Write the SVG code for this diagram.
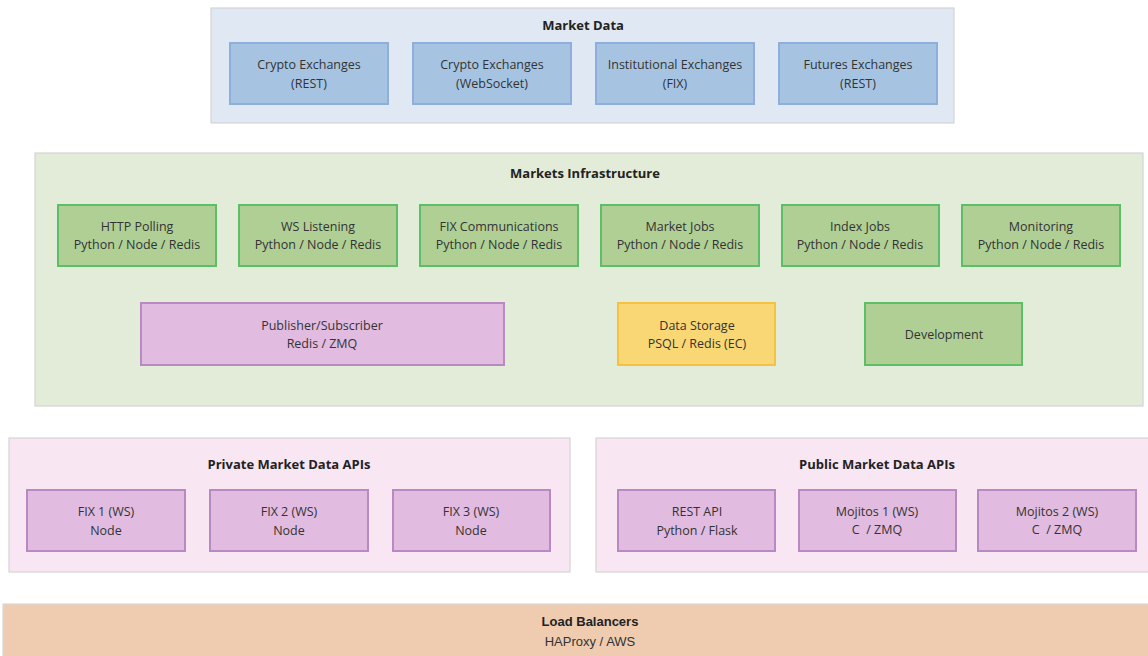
<svg xmlns="http://www.w3.org/2000/svg" width="1148" height="656" viewBox="0 0 1148 656">
<style>
text{font-family:"Open Sans","Noto Sans","Liberation Sans",sans-serif;font-size:12.5px;fill:#333;text-anchor:middle}
.t{font-weight:bold;font-size:13px;fill:#222}
.cont{stroke:#d4d4d4;stroke-width:1.2}
.blue{fill:#a6c4e2;stroke:#8eaedb;stroke-width:2}
.green{fill:#afcf95;stroke:#5cbf68;stroke-width:2}
.purple{fill:#e1bbe0;stroke:#b98ac2;stroke-width:2}
.yellow{fill:#f9d774;stroke:#f4c23e;stroke-width:2}
.lb{font-family:"Liberation Sans Narrow","Liberation Sans",sans-serif}
</style>
<rect width="1148" height="656" fill="#fff"/>
<g id="market-data">
<rect class="cont" x="211" y="8" width="743" height="115" fill="#dfe8f3"/>
<text class="t" x="583" y="30">Market Data</text>
</g>
<g id="crypto-rest"><rect class="blue" x="230" y="43" width="158" height="61"/><text x="309" y="69">Crypto Exchanges</text><text x="309" y="88">(REST)</text></g>
<g id="crypto-ws"><rect class="blue" x="413" y="43" width="158" height="61"/><text x="492" y="69">Crypto Exchanges</text><text x="492" y="88">(WebSocket)</text></g>
<g id="inst-fix"><rect class="blue" x="596" y="43" width="158" height="61"/><text x="675" y="69">Institutional Exchanges</text><text x="675" y="88">(FIX)</text></g>
<g id="futures-rest"><rect class="blue" x="779" y="43" width="158" height="61"/><text x="858" y="69">Futures Exchanges</text><text x="858" y="88">(REST)</text></g>

<g id="markets-infra">
<rect class="cont" x="35" y="153" width="1108" height="253" fill="#e3ecd8"/>
<text class="t" x="585" y="178">Markets Infrastructure</text>
</g>
<g id="http-polling"><rect class="green" x="58" y="205" width="158" height="61"/><text x="137" y="231">HTTP Polling</text><text x="137" y="249">Python / Node / Redis</text></g>
<g id="ws-listening"><rect class="green" x="239" y="205" width="158" height="61"/><text x="318" y="231">WS Listening</text><text x="318" y="249">Python / Node / Redis</text></g>
<g id="fix-comm"><rect class="green" x="420" y="205" width="158" height="61"/><text x="499" y="231">FIX Communications</text><text x="499" y="249">Python / Node / Redis</text></g>
<g id="market-jobs"><rect class="green" x="601" y="205" width="158" height="61"/><text x="680" y="231">Market Jobs</text><text x="680" y="249">Python / Node / Redis</text></g>
<g id="index-jobs"><rect class="green" x="782" y="205" width="157" height="61"/><text x="860" y="231">Index Jobs</text><text x="860" y="249">Python / Node / Redis</text></g>
<g id="monitoring"><rect class="green" x="962" y="205" width="158" height="61"/><text x="1041" y="231">Monitoring</text><text x="1041" y="249">Python / Node / Redis</text></g>
<g id="pubsub"><rect class="purple" x="141" y="303" width="363" height="62"/><text x="322" y="330">Publisher/Subscriber</text><text x="322" y="348">Redis / ZMQ</text></g>
<g id="data-storage"><rect class="yellow" x="618" y="303" width="157" height="62"/><text x="697" y="330">Data Storage</text><text x="697" y="348">PSQL / Redis (EC)</text></g>
<g id="development"><rect class="green" x="865" y="303" width="157" height="62"/><text x="944" y="339">Development</text></g>

<g id="private-apis">
<rect class="cont" x="9" y="438" width="561" height="134" fill="#f9e6f3"/>
<text class="t" x="289" y="469">Private Market Data APIs</text>
</g>
<g id="fix1"><rect class="purple" x="27" y="490" width="158" height="61"/><text x="106" y="516">FIX 1 (WS)</text><text x="106" y="535">Node</text></g>
<g id="fix2"><rect class="purple" x="210" y="490" width="158" height="61"/><text x="289" y="516">FIX 2 (WS)</text><text x="289" y="535">Node</text></g>
<g id="fix3"><rect class="purple" x="393" y="490" width="157" height="61"/><text x="471" y="516">FIX 3 (WS)</text><text x="471" y="535">Node</text></g>

<g id="public-apis">
<rect class="cont" x="596" y="438" width="560" height="134" fill="#f9e6f3"/>
<text class="t" x="877" y="469">Public Market Data APIs</text>
</g>
<g id="rest-api"><rect class="purple" x="618" y="490" width="157" height="61"/><text x="697" y="516">REST API</text><text x="697" y="535">Python / Flask</text></g>
<g id="mojitos1"><rect class="purple" x="799" y="490" width="157" height="61"/><text x="877" y="516">Mojitos 1 (WS)</text><text x="877" y="534">C &#160;/ ZMQ</text></g>
<g id="mojitos2"><rect class="purple" x="978" y="490" width="158" height="61"/><text x="1057" y="516">Mojitos 2 (WS)</text><text x="1057" y="534">C &#160;/ ZMQ</text></g>

<g id="load-balancers">
<rect x="3" y="604" width="1150" height="60" fill="#efcbb0" stroke="#d8d8d8" stroke-width="1.2"/>
<text class="t lb" x="590" y="626">Load Balancers</text>
<text class="lb" x="590" y="646" style="font-size:13px">HAProxy / AWS</text>
</g>
<g id="connectors"></g>
</svg>
